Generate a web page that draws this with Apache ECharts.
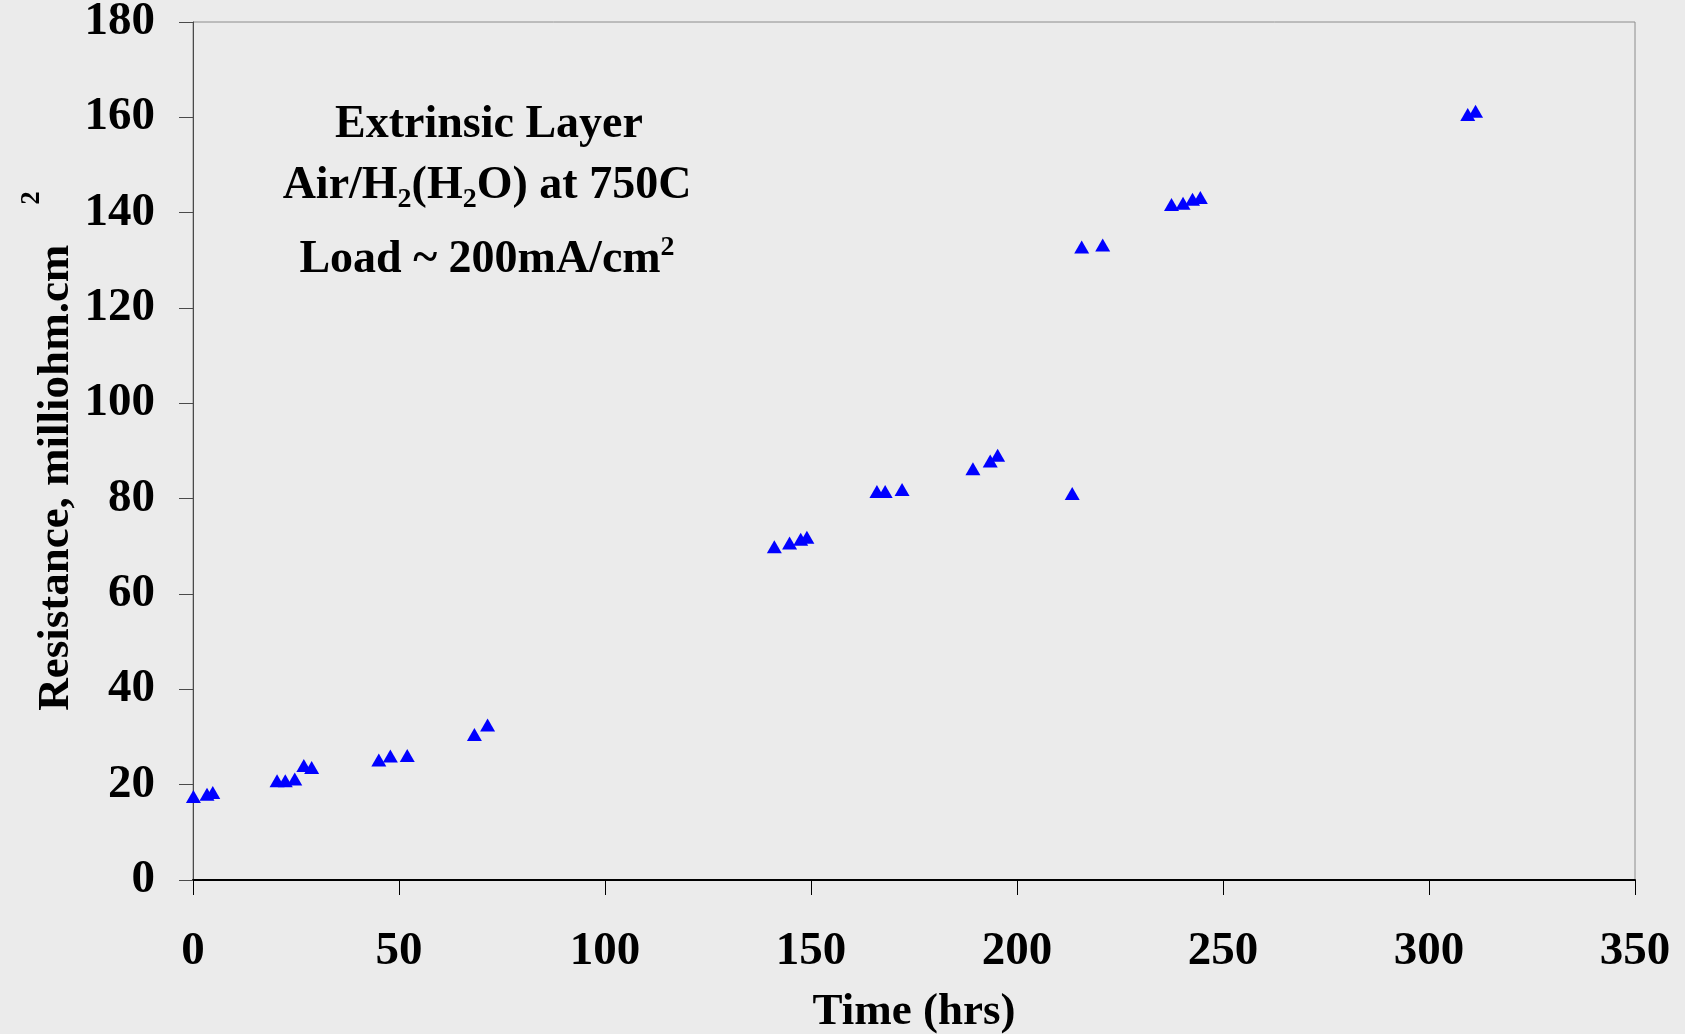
<!DOCTYPE html>
<html>
	<head>
		<meta charset="utf-8">
		<title>Extrinsic Layer resistance</title>
		<script src="https://cdn.jsdelivr.net/npm/echarts@6.0.0/dist/echarts.min.js"></script>
		<style>
			html, body { margin: 0; padding: 0; background: #ebebeb; }
			#chart { width: 1685px; height: 1034px; }
		</style>
	</head>
	<body>
		<div id="chart"></div>
		<script>
			// 读图得到的数据: time (hrs) / resistance (milliohm.cm2)
			var timeHrs = [0.1, 3.4, 4.8, 20.4, 22.4, 24.7, 26.9, 28.8, 45.1, 47.9, 52.0, 68.3, 71.5,
				141.1, 144.8, 147.5, 149.0, 166.0, 168.0, 172.1, 189.3, 193.5, 195.3, 213.4,
				215.7, 220.8, 237.5, 240.3, 242.6, 244.5, 309.4, 311.3];
			var resistance = [17.5, 18.0, 18.35, 20.8, 20.8, 21.2, 24.0, 23.6, 25.2, 26.0, 26.1, 30.5, 32.5,
				69.9, 70.7, 71.5, 71.9, 81.5, 81.5, 81.9, 86.3, 87.9, 89.1, 81.1,
				132.8, 133.2, 141.7, 142.0, 142.8, 143.2, 160.6, 161.3];
			var xTicks = [0, 50, 100, 150, 200, 250, 300, 350];
			var yTicks = [0, 20, 40, 60, 80, 100, 120, 140, 160, 180];

			var points = [];
			for (var i = 0; i < timeHrs.length; i++) {
				points.push([timeHrs[i], resistance[i]]);
			}

			var font = "'Liberation Serif', 'Times New Roman', serif";
			var chart = echarts.init(document.getElementById('chart'));

			var option = {
				backgroundColor: '#ebebeb',
				animation: false,
				grid: {
					left: 193,
					right: 50,
					top: 22,
					bottom: 154,
					show: true,
					borderColor: '#8c8c8c',
					borderWidth: 1,
					backgroundColor: 'transparent',
					containLabel: false,
					outerBoundsMode: 'none'
				},
				xAxis: {
					type: 'value',
					min: xTicks[0],
					max: xTicks[xTicks.length - 1],
					interval: 50,
					name: 'Time (hrs)',
					nameLocation: 'middle',
					nameGap: 110,
					nameMoveOverlap: false,
					nameTextStyle: {
						fontFamily: font,
						fontWeight: 'bold',
						fontSize: 45,
						lineHeight: 44,
						color: '#000'
					},
					axisLine: { onZero: false, lineStyle: { color: '#000', width: 2 } },
					axisTick: { show: true, inside: false, length: 15, lineStyle: { color: '#000', width: 1 } },
					axisLabel: {
						margin: 50,
						fontFamily: font,
						fontWeight: 'bold',
						fontSize: 47,
						lineHeight: 44,
						color: '#000',
						showMinLabel: true,
						showMaxLabel: true,
						hideOverlap: false
					},
					splitLine: { show: false }
				},
				yAxis: {
					type: 'value',
					min: yTicks[0],
					max: yTicks[yTicks.length - 1],
					interval: 20,
					name: '{a|Resistance, milliohm.cm}{s|2}',
					nameLocation: 'middle',
					nameRotate: 90,
					nameGap: 99,
					nameMoveOverlap: false,
					nameTextStyle: {
						color: '#000',
						rich: {
							a: {
								fontFamily: font,
								fontWeight: 'bold',
								fontSize: 45,
								lineHeight: 75,
								color: '#000'
							},
							s: {
								fontFamily: font,
								fontWeight: 'bold',
								fontSize: 27,
								lineHeight: 28,
								verticalAlign: 'top',
								padding: [0, 0, 0, 40],
								color: '#000'
							}
						}
					},
					axisLine: { onZero: false, lineStyle: { color: '#4a4a4a', width: 1 } },
					axisTick: { show: true, inside: false, length: 14, lineStyle: { color: '#4a4a4a', width: 1 } },
					axisLabel: {
						margin: 38,
						fontFamily: font,
						fontWeight: 'bold',
						fontSize: 47,
						color: '#000',
						showMinLabel: true,
						showMaxLabel: true,
						hideOverlap: false
					},
					splitLine: { show: false }
				},
				graphic: [{
					type: 'text',
					x: 489,
					y: 125,
					style: {
						text: 'Extrinsic Layer',
						fill: '#000',
						font: 'bold 46px ' + font,
						align: 'center',
						verticalAlign: 'middle'
					}
				}, {
					type: 'text',
					x: 487,
					y: 186,
					style: {
						text: 'Air/H{sub|2}(H{sub|2}O) at 750C',
						fill: '#000',
						font: 'bold 46px ' + font,
						align: 'center',
						verticalAlign: 'middle',
						lineHeight: 56,
						rich: {
							sub: {
								fontFamily: font,
								fontWeight: 'bold',
								fontSize: 28,
								lineHeight: 28,
								verticalAlign: 'bottom'
							}
						}
					}
				}, {
					type: 'text',
					x: 487,
					y: 260,
					style: {
						text: 'Load ~ 200mA/cm{sup|2}',
						fill: '#000',
						font: 'bold 46px ' + font,
						align: 'center',
						verticalAlign: 'middle',
						lineHeight: 52,
						rich: {
							sup: {
								fontFamily: font,
								fontWeight: 'bold',
								fontSize: 28,
								lineHeight: 30,
								verticalAlign: 'top'
							}
						}
					}
				}],
				series: [{
					name: 'Resistance',
					type: 'scatter',
					data: points,
					symbol: 'triangle',
					symbolSize: [15, 13],
					itemStyle: { color: '#0000ff', opacity: 1 }
				}]
			};
			chart.setOption(option);

			window.onresize = function() {
				chart.resize();
			}
		</script>
	</body>
</html>
